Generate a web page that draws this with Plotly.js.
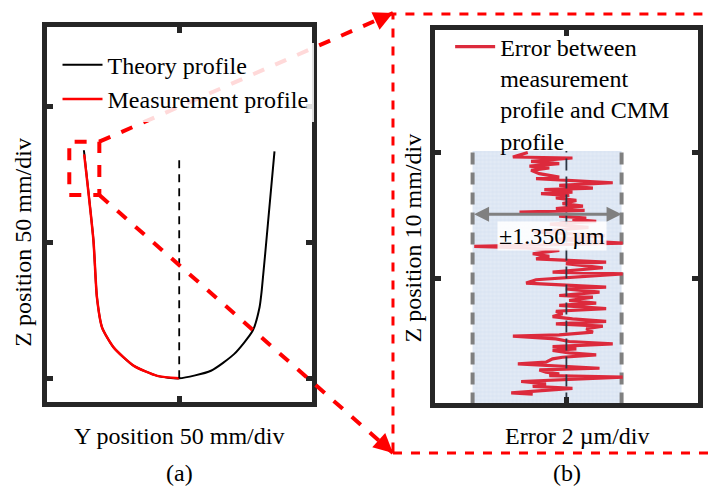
<!DOCTYPE html>
<html>
<head>
<meta charset="utf-8">
<script src="https://cdn.plot.ly/plotly-3.0.1.min.js"></script>
<style>html,body{margin:0;padding:0;background:#fff;}#chart{width:710px;height:491px;}</style>
</head>
<body>
<div id="chart"></div>
<script>
// ---------- Panel (a): profiles (Y position mm, Z position mm) ----------
var theoryY = [-35.1, -31.6, -30.3, -28.4, -24.1, -16.7, -8.1, 0, 11.7, 20.3, 27.1, 29.6, 30.4, 32.7, 35.1];
var theoryZ = [84.0, 50.9, 29.8, 18.7, 11.3, 4.6, 0.9, 0, 2.8, 9.0, 17.6, 26.2, 32.4, 57.2, 83.6];
var measY = [-35.0, -31.6, -30.3, -28.4, -24.1, -16.7, -8.1, 0];
var measZ = [82.5, 50.9, 29.8, 18.7, 11.3, 4.6, 0.9, 0];
var axisLineY = [0, 0];
var axisLineZ = [0, 80.7];
var panelATicksY = [0];
var panelATicksZ = [0, 50, 100];

// ---------- Panel (b): error (um) vs Z position (mm) ----------
var errVal = [-0.70,-0.97,0.11,-0.64,-0.13,-0.67,-0.31,-0.64,-0.49,-0.13,-0.55,0.48,0.84,-0.13,0.48,-0.40,0.11,-0.46,0.05,-0.19,0.18,-0.07,0.30,-0.19,0.33,-0.85,-0.01,-0.13,0.36,0.11,0.54,
  -0.30,0.40,-0.60,0.70,-0.20,
  1.02,-1.67,-0.73,-0.13,-0.61,-0.31,-0.55,0.72,-0.01,0.66,-0.25,1.02,-0.01,-0.55,-0.73,-0.13,0.72,-0.01,0.60,-0.13,0.48,0.05,0.54,-0.13,0.72,-0.19,-0.07,-0.25,0.11,
  0.72,-0.19,0.66,0.36,0.48,-0.13,-0.97,-0.19,0.05,0.84,-0.25,0.18,-0.25,0.05,0.54,-0.07,-0.25,-0.37,-0.88,0.05,0.60,-0.49,-0.37,-0.13,-0.31,1.02,0.36,-0.82,-0.37,-0.61,0.11,-0.37,-1.00,-0.61];
var errZ = [19.98,19.63,19.55,19.29,19.10,18.91,18.76,18.57,18.31,18.04,17.91,17.70,17.59,17.38,17.17,17.04,16.85,16.72,16.59,16.38,16.19,15.93,15.74,15.53,15.40,15.26,15.13,14.94,14.79,14.68,14.52,
  14.30,14.05,13.70,13.40,13.10,
  12.80,12.54,12.43,12.22,11.96,11.75,11.56,11.30,11.17,10.85,10.50,10.37,10.10,9.90,9.63,9.52,9.31,9.18,8.91,8.65,8.52,8.25,8.04,7.86,7.60,7.40,7.20,6.98,6.80,
  6.59,6.40,6.22,6.01,5.74,5.53,5.42,5.21,5.00,4.81,4.60,4.42,4.29,4.10,3.94,3.75,3.62,3.36,3.23,3.04,2.88,2.75,2.56,2.44,2.30,2.17,2.04,1.83,1.64,1.45,1.29,1.11,0.93,0.82];
var bandLow = -1.70, bandHigh = 1.00, bandBottom = 0, bandTop = 20.1;
var bandHalfWidthLabel = "±1.350 µm";
var arrowZ = 15.1;
var panelBTicksX = [0];
var panelBTicksZ = [10, 20];

var FONT = "Liberation Serif";
var FRAME = "#262626";

function frameAxis(domain, range, tickvals) {
  return {
    domain: domain, range: range, tickvals: tickvals,
    showline: true, mirror: "ticks", linewidth: 5, linecolor: FRAME,
    ticks: "inside", ticklen: 6, tickwidth: 5, tickcolor: FRAME,
    showgrid: false, zeroline: false, showticklabels: false, fixedrange: true
  };
}
function txt(x, y, text, extra) {
  return Object.assign({xref: "paper", yref: "paper", x: x, y: y, xanchor: "center", yanchor: "middle",
    showarrow: false, text: text, font: {family: FONT, size: 24, color: "#000"}}, extra || {});
}

var traces = [
  {x: theoryY, y: theoryZ, xaxis: "x", yaxis: "y", type: "scatter", mode: "lines",
   name: "Theory profile", legend: "legend",
   line: {color: "#000000", width: 2, shape: "spline", smoothing: 0.6}},
  {x: measY, y: measZ, xaxis: "x", yaxis: "y", type: "scatter", mode: "lines",
   name: "Measurement profile", legend: "legend",
   line: {color: "#ff0000", width: 2.5, shape: "spline", smoothing: 0.6}},
  {x: axisLineY, y: axisLineZ, xaxis: "x", yaxis: "y", type: "scatter", mode: "lines",
   showlegend: false, line: {color: "#000000", width: 1.8, dash: "8px,6px"}},
  {x: [bandLow, bandHigh, bandHigh, bandLow, bandLow], y: [bandBottom, bandBottom, bandTop, bandTop, bandBottom],
   xaxis: "x2", yaxis: "y2", type: "scatter", mode: "lines", fill: "toself", showlegend: false,
   line: {width: 0}, fillcolor: "#dde6f3",
   fillpattern: {shape: "+", bgcolor: "#e2eaf5", fgcolor: "#c9d6ea", size: 4, solidity: 0.15}},
  {x: [bandLow, bandLow], y: [bandBottom, bandTop], xaxis: "x2", yaxis: "y2", type: "scatter", mode: "lines",
   showlegend: false, line: {color: "#808080", width: 4, dash: "12px,8px"}},
  {x: [bandHigh, bandHigh], y: [bandBottom, bandTop], xaxis: "x2", yaxis: "y2", type: "scatter", mode: "lines",
   showlegend: false, line: {color: "#808080", width: 4, dash: "12px,8px"}},
  {x: errVal, y: errZ, xaxis: "x2", yaxis: "y2", type: "scatter", mode: "lines",
   name: "Error between<br>measurement<br>profile and CMM<br>profile", legend: "legend2",
   line: {color: "#dc2a3c", width: 3.2}},
  {x: [0, 0], y: [bandBottom, bandTop], xaxis: "x2", yaxis: "y2", type: "scatter", mode: "lines",
   showlegend: false, line: {color: "#2b3442", width: 1.8, dash: "12px,6px"}}
];

var layout = {
  width: 710, height: 491,
  margin: {l: 0, r: 0, t: 0, b: 0},
  paper_bgcolor: "#ffffff", plot_bgcolor: "#ffffff",
  font: {family: FONT, size: 24, color: "#000000"},
  xaxis: frameAxis([0.0658, 0.4390], [-48.8, 48.8], panelATicksY),
  yaxis: frameAxis([0.1819, 0.9456], [-8.6, 129.5], panelATicksZ),
  xaxis2: Object.assign(frameAxis([0.612, 0.9835], [-2.39, 2.39], panelBTicksX), {anchor: "y2"}),
  yaxis2: Object.assign(frameAxis([0.1786, 0.9389], [0.1, 29.7], panelBTicksZ), {anchor: "x2"}),
  legend: {x: 0.081, y: 0.913, xanchor: "left", yanchor: "top", bgcolor: "rgba(255,255,255,0.85)",
           font: {family: FONT, size: 24, color: "#000"}, tracegroupgap: 0, itemwidth: 40},
  legend2: {x: 0.634, y: 0.950, xanchor: "left", yanchor: "top", bgcolor: "rgba(255,255,255,0)",
            valign: "top", font: {family: FONT, size: 24, color: "#000"}, itemwidth: 40},
  showlegend: true,
  shapes: [
    {type: "rect", xref: "paper", yref: "paper", x0: 0.0976, x1: 0.1399, y0: 0.6029, y1: 0.7114,
     line: {color: "#ff0000", width: 4, dash: "dash"}, layer: "above"},
    {type: "line", xref: "paper", yref: "paper", x0: 0.1399, y0: 0.7114, x1: 0.5535, y1: 0.9735,
     line: {color: "#ff0000", width: 4, dash: "dash"}, layer: "above"},
    {type: "line", xref: "paper", yref: "paper", x0: 0.1399, y0: 0.6029, x1: 0.5535, y1: 0.0774,
     line: {color: "#ff0000", width: 4, dash: "dash"}, layer: "above"},
    {type: "rect", xref: "paper", yref: "paper", x0: 0.5535, x1: 1.02, y0: 0.0774, y1: 0.9715,
     line: {color: "#ff0000", width: 3, dash: "dash"}, layer: "above"}
  ],
  annotations: [
    {xref: "paper", yref: "paper", x: 0.5535, y: 0.0774, ax: -11, ay: -10, showarrow: true, text: "",
     arrowhead: 2, arrowsize: 1.1, arrowwidth: 3.5, arrowcolor: "#ff0000", standoff: 0},
    {xref: "paper", yref: "paper", x: 0.5535, y: 0.9735, ax: -13, ay: 6, showarrow: true, text: "",
     arrowhead: 2, arrowsize: 1.1, arrowwidth: 3.5, arrowcolor: "#ff0000", standoff: 0},
    {xref: "x2", yref: "y2", x: bandHigh, y: arrowZ, axref: "x2", ayref: "y2", ax: bandLow, ay: arrowZ,
     showarrow: true, text: "", arrowhead: 2, startarrowhead: 2, arrowside: "end+start",
     arrowsize: 1, arrowwidth: 3, arrowcolor: "#808080", standoff: 0, startstandoff: 0},
    {xref: "x2", yref: "y2", x: -0.26, y: 13.35, xanchor: "center", yanchor: "middle", showarrow: false, text: bandHalfWidthLabel,
     bgcolor: "rgba(255,255,255,0.88)", borderpad: 1, font: {family: FONT, size: 24, color: "#000"}},
    txt(0.2524, 0.112, "Y position 50 mm/div"),
    txt(0.8127, 0.112, "Error 2 µm/div"),
    txt(0.032, 0.507, "Z position 50 mm/div", {textangle: -90}),
    txt(0.5817, 0.5143, "Z position 10 mm/div", {textangle: -90}),
    txt(0.2524, 0.0367, "(a)"),
    txt(0.7986, 0.0367, "(b)")
  ]
};

Plotly.newPlot("chart", traces, layout, {displayModeBar: false, staticPlot: true});
</script>
</body>
</html>
